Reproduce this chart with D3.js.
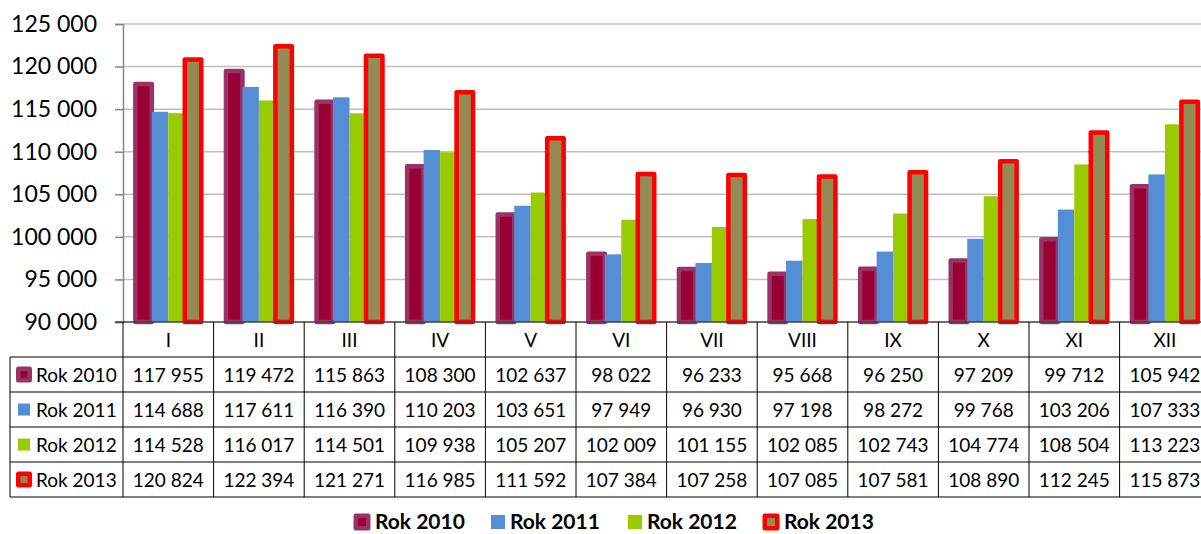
<!DOCTYPE html>
<html>
<head>
<meta charset="utf-8">
<script src="https://cdn.jsdelivr.net/npm/d3@7"></script>
<style>
  body { margin: 0; background: #fff; }
  svg { display: block; font-family: Lato, "Open Sans", sans-serif; }
</style>
</head>
<body>
<div id="chart"></div>
<script>
// dane
const months = ["I", "II", "III", "IV", "V", "VI", "VII", "VIII", "IX", "X", "XI", "XII"];
const seriesNames = ["Rok 2010", "Rok 2011", "Rok 2012", "Rok 2013"];
const rok2010 = [117955, 119472, 115863, 108300, 102637, 98022, 96233, 95668, 96250, 97209, 99712, 105942];
const rok2011 = [114688, 117611, 116390, 110203, 103651, 97949, 96930, 97198, 98272, 99768, 103206, 107333];
const rok2012 = [114528, 116017, 114501, 109938, 105207, 102009, 101155, 102085, 102743, 104774, 108504, 113223];
const rok2013 = [120824, 122394, 121271, 116985, 111592, 107384, 107258, 107085, 107581, 108890, 112245, 115873];
const yTicks = [90000, 95000, 100000, 105000, 110000, 115000, 120000, 125000];

const seriesValues = [rok2010, rok2011, rok2012, rok2013];
const fills = ["#990033", "#558ED5", "#99CC00", "#948A54"];
const strokes = ["#993366", null, null, "#FF0000"];

const W = 1201, H = 534;
const plotLeft = 123, colW = 90.6;
const plotTop = 24, plotBottom = 322;
const rowH = 35;

const locale = d3.formatLocale({ decimal: ",", thousands: " ", grouping: [3], currency: ["", ""] });
const fmt = locale.format(",d");

const svg = d3.select("#chart").append("svg")
    .attr("width", W)
    .attr("height", H);

const x = d3.scaleBand()
    .domain(months)
    .range([plotLeft, plotLeft + colW * months.length]);

// szerokość grupy = 4 słupki, przerwa 150%
const barW = colW / (seriesNames.length + 1.5);
const xs = d3.scaleBand()
    .domain(seriesNames)
    .range([0, barW * seriesNames.length]);
const groupOffset = (colW - barW * seriesNames.length) / 2;

const y = d3.scaleLinear()
    .domain([90000, 125000])
    .range([plotBottom, plotTop]);

// siatka
svg.append("g")
    .selectAll("line")
    .data(yTicks.slice(1))
    .enter()
    .append("line")
    .attr("x1", plotLeft)
    .attr("x2", W)
    .attr("y1", d => y(d))
    .attr("y2", d => y(d))
    .attr("stroke", "#BFBFBF")
    .attr("stroke-width", 1.5);

// oś Y
const yAxis = svg.append("g")
    .attr("transform", `translate(${plotLeft},0)`)
    .call(d3.axisLeft(y).tickValues(yTicks).tickFormat(fmt).tickSize(8).tickPadding(18));
yAxis.select(".domain").attr("stroke", "#868686").attr("stroke-width", 1.5);
yAxis.selectAll(".tick line").attr("stroke", "#868686").attr("stroke-width", 1.5);
yAxis.selectAll(".tick text")
    .attr("fill", "#000")
    .style("font-size", "23px")
    .style("font-family", "Lato, sans-serif");

// słupki
const groups = svg.append("g")
    .selectAll("g")
    .data(seriesNames.map((name, i) => ({ name, i, values: seriesValues[i] })))
    .enter()
    .append("g");

groups.selectAll("rect")
    .data(s => s.values.map((v, m) => ({ v, m, s })))
    .enter()
    .append("rect")
    .attr("x", d => x(months[d.m]) + groupOffset + xs(d.s.name))
    .attr("width", xs.bandwidth())
    .attr("y", d => y(d.v))
    .attr("height", d => y(90000) - y(d.v))
    .attr("fill", d => fills[d.s.i])
    .attr("stroke", d => strokes[d.s.i] || "none")
    .attr("stroke-width", d => strokes[d.s.i] ? 4.5 : 0)
    .attr("stroke-linejoin", "round");

// oś X (górna krawędź tabeli)
svg.append("line")
    .attr("x1", plotLeft - 8).attr("x2", W)
    .attr("y1", plotBottom).attr("y2", plotBottom)
    .attr("stroke", "#404040").attr("stroke-width", 1.5);

// tabela danych
const table = svg.append("g");
const tableLeft = 10;
const tableBottom = plotBottom + rowH * (seriesNames.length + 1);

// linie poziome
table.selectAll(".hline")
    .data(d3.range(1, seriesNames.length + 1))
    .enter()
    .append("line")
    .attr("x1", tableLeft).attr("x2", W)
    .attr("y1", r => plotBottom + r * rowH)
    .attr("y2", r => plotBottom + r * rowH)
    .attr("stroke", "#000").attr("stroke-width", 1);

table.append("line")
    .attr("x1", tableLeft).attr("x2", W)
    .attr("y1", tableBottom).attr("y2", tableBottom)
    .attr("stroke", "#808080").attr("stroke-width", 2);

// linie pionowe
table.selectAll(".vline")
    .data(months)
    .enter()
    .append("line")
    .attr("x1", m => x(m)).attr("x2", m => x(m))
    .attr("y1", plotBottom).attr("y2", tableBottom)
    .attr("stroke", "#000").attr("stroke-width", 1);

table.append("line")
    .attr("x1", tableLeft).attr("x2", tableLeft)
    .attr("y1", plotBottom + rowH).attr("y2", tableBottom)
    .attr("stroke", "#000").attr("stroke-width", 1);

// nagłówki miesięcy
table.selectAll(".month")
    .data(months)
    .enter()
    .append("text")
    .attr("x", m => x(m) + colW / 2)
    .attr("y", plotBottom + rowH / 2 + 7)
    .attr("text-anchor", "middle")
    .style("font-size", "19px")
    .text(m => m);

// wiersze
const rows = table.selectAll(".row")
    .data(seriesNames.map((name, i) => ({ name, i, values: seriesValues[i] })))
    .enter()
    .append("g")
    .attr("transform", d => `translate(0,${plotBottom + (d.i + 1) * rowH})`);

rows.selectAll("text.val")
    .data(d => d.values.map((v, m) => ({ v, m })))
    .enter()
    .append("text")
    .attr("x", d => x(months[d.m]) + colW / 2)
    .attr("y", rowH / 2 + 7)
    .attr("text-anchor", "middle")
    .style("font-size", "19px")
    .text(d => fmt(d.v));

rows.append("text")
    .attr("x", 36)
    .attr("y", rowH / 2 + 7)
    .style("font-size", "19px")
    .text(d => d.name);

// znacznik legendy
function drawKey(g, i, cx, cy, big, small, plain) {
    if (strokes[i]) {
        g.append("rect")
            .attr("x", cx - big / 2).attr("y", cy - big / 2)
            .attr("width", big).attr("height", big)
            .attr("rx", 2.5)
            .attr("fill", strokes[i]);
        g.append("rect")
            .attr("x", cx - small / 2).attr("y", cy - small / 2)
            .attr("width", small).attr("height", small)
            .attr("fill", fills[i]);
    } else {
        g.append("rect")
            .attr("x", cx - plain / 2).attr("y", cy - plain / 2)
            .attr("width", plain).attr("height", plain)
            .attr("fill", fills[i]);
    }
}

rows.each(function (d) {
    drawKey(d3.select(this), d.i, 24, rowH / 2, 16, 7, 12);
});

// legenda dolna
const legendX = d3.scaleOrdinal().domain(seriesNames).range([353, 489, 626, 762]);
const legend = svg.append("g")
    .selectAll("g")
    .data(seriesNames.map((name, i) => ({ name, i })))
    .enter()
    .append("g")
    .attr("transform", d => `translate(${legendX(d.name)},522)`);

legend.each(function (d) {
    drawKey(d3.select(this), d.i, 9, 0, 17, 8, 14);
});

legend.append("text")
    .attr("x", d => strokes[d.i] ? 22 : 21)
    .attr("y", 7)
    .style("font-size", "21px")
    .style("font-weight", "bold")
    .text(d => d.name);
</script>
</body>
</html>
